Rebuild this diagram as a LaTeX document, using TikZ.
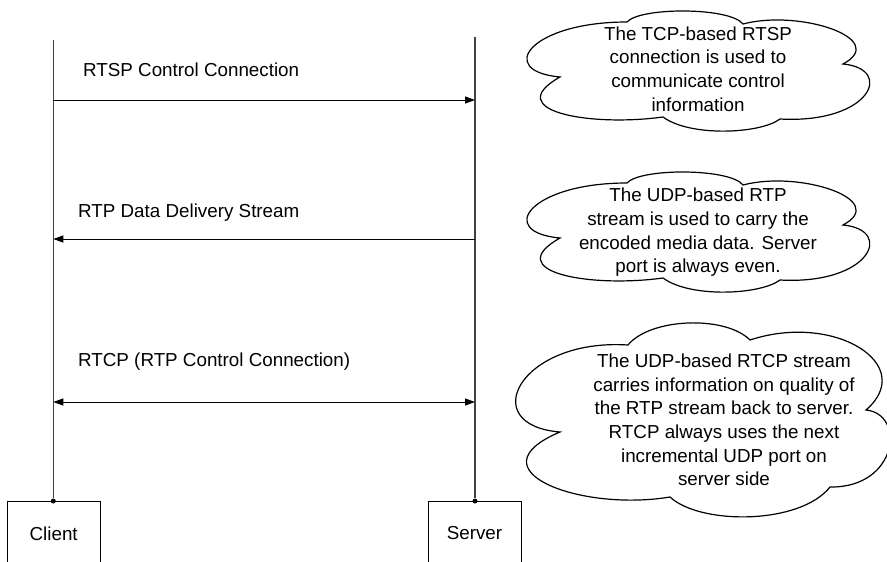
\documentclass[tikz,border=0pt]{standalone}
\usepackage{fontspec}
\setmainfont{Liberation Sans}
\usetikzlibrary{arrows.meta}
\begin{document}
\begin{tikzpicture}[x=1pt,y=-1pt,
  txt/.style={font=\fontsize{18.8}{23.7}\selectfont, inner sep=0pt},
  cloudtxt/.style={txt, align=center},
  actor/.style={draw, line width=1pt, minimum width=93pt, minimum height=64pt, anchor=north, font=\fontsize{18.8}{23.7}\selectfont},
  lifeline/.style={line width=1.4pt, draw=black!75},
  msg/.style={line width=1pt, draw=black},
  tip/.style={-{Triangle[length=10pt,width=7pt]}},
  tips/.style={{Triangle[length=10pt,width=7pt]}-{Triangle[length=10pt,width=7pt]}},
  cloudline/.style={line width=1.2pt, draw=black},
  dotmark/.style={circle, fill=black, inner sep=0pt, minimum size=5pt}]
\useasboundingbox (0,0) rectangle (887,562);
\clip (0,0) rectangle (887,562);

% actors
\node[actor] (client) at (53.7,501) {Client};
\node[actor] (server) at (474.5,501) {Server};
\coordinate (ctop) at (53.3,40);
\coordinate (stop) at (475,37);
\node[dotmark] (cdot) at (53.3,501) {};
\node[dotmark] (sdot) at (475,501) {};
\draw[lifeline] (ctop) -- (cdot);
\draw[lifeline] (stop) -- (sdot);

% messages
\coordinate (c1) at (53.3,100);
\coordinate (s1) at (475,100);
\coordinate (c2) at (53.3,239);
\coordinate (s2) at (475,239);
\coordinate (c3) at (53.3,402);
\coordinate (s3) at (475,402);
\draw[msg,tip] (c1) -- (s1);
\draw[msg,tip] (s2) -- (c2);
\draw[msg,tips] (c3) -- (s3);

\node[txt, anchor=west] (l1) at (83,70) {RTSP Control Connection};
\node[txt, anchor=west] (l2) at (78,213) {RTP Data Delivery Stream};
\node[txt, anchor=west] (l3) at (78,362) {RTCP (RTP Control Connection)};

% clouds
\begin{scope}[shift={(0,-161)}]
\draw[cloudline] (560,238) .. controls (495,232) and (530,183) .. (627,183)
 .. controls (640,168) and (730,168) .. (743,185)
 .. controls (800,170) and (890,200) .. (843,225)
 .. controls (895,230) and (870,285) .. (780,280)
 .. controls (760,295) and (690,298) .. (663,278)
 .. controls (590,288) and (500,272) .. (560,238) -- cycle;
\end{scope}
\node[cloudtxt] (t1) at (698,69) {The TCP-based RTSP\\connection is used to\\communicate control\\information};

\draw[cloudline] (560,238) .. controls (495,232) and (530,183) .. (627,183)
 .. controls (640,168) and (730,168) .. (743,185)
 .. controls (800,170) and (890,200) .. (843,225)
 .. controls (895,230) and (870,285) .. (780,280)
 .. controls (760,295) and (690,298) .. (663,278)
 .. controls (590,288) and (500,272) .. (560,238) -- cycle;
\node[cloudtxt] (t2) at (698,232.5) {The UDP-based RTP\\stream is used to carry the\\encoded media data. Server\\port is always even.};

\draw[cloudline] (560,432) .. controls (475,425) and (520,338) .. (628,345)
 .. controls (650,318) and (725,315) .. (750,340)
 .. controls (835,312) and (918,365) .. (866,410)
 .. controls (906,414) and (898,488) .. (830,487)
 .. controls (800,525) and (700,525) .. (670,497)
 .. controls (580,512) and (470,470) .. (560,432) -- cycle;
\node[cloudtxt] (t3) at (724,420) {The UDP-based RTCP stream\\carries information on quality of\\the RTP stream back to server.\\RTCP always uses the next\\incremental UDP port on\\server side};
\end{tikzpicture}
\end{document}
